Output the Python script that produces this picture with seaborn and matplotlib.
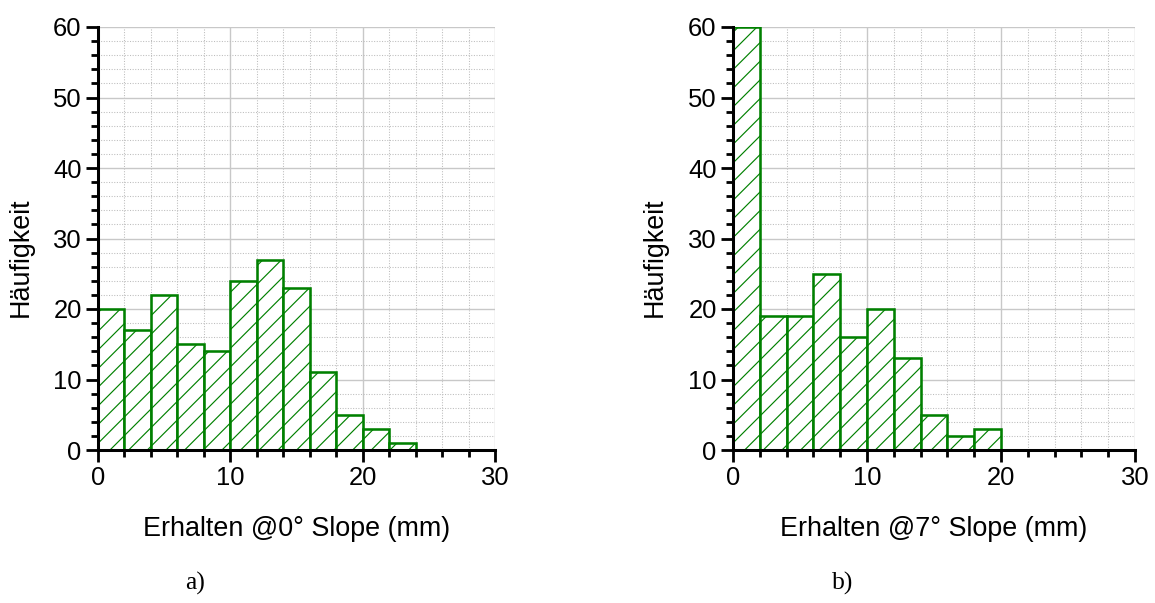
import numpy as np
import pandas as pd
import matplotlib
matplotlib.use("Agg")
import matplotlib.pyplot as plt
from matplotlib.ticker import MultipleLocator
import seaborn as sns

# Klassengrenzen (mm) und Häufigkeiten
bin_edges = [0, 2, 4, 6, 8, 10, 12, 14, 16, 18, 20, 22, 24]
counts_0deg = [20, 17, 22, 15, 14, 24, 27, 23, 11, 5, 3, 1]
counts_7deg = [60, 19, 19, 25, 16, 20, 13, 5, 2, 3]

xlabels = ["Erhalten @0° Slope (mm)", "Erhalten @7° Slope (mm)"]
ylabel = "Häufigkeit"
panel_tags = ["a)", "b)"]
xticks = [0, 10, 20, 30]
yticks = [0, 10, 20, 30, 40, 50, 60]

sns.set_style("white")
plt.rcParams["font.family"] = ["Liberation Sans", "DejaVu Sans"]
plt.rcParams["hatch.linewidth"] = 0.5
plt.rcParams["text.color"] = "black"
plt.rcParams["axes.labelcolor"] = "black"

green = "#008000"

fig = plt.figure(figsize=(1155 / 168, 603 / 168), dpi=168)
axes = [fig.add_axes([98 / 1155, 1 - 450 / 603, 397 / 1155, 423 / 603]),
        fig.add_axes([733 / 1155, 1 - 450 / 603, 402 / 1155, 423 / 603])]
tag_x = [0.244, 0.274]

for ax, counts, xl, tag, tx in zip(axes, [counts_0deg, counts_7deg], xlabels, panel_tags, tag_x):
    edges = bin_edges[:len(counts) + 1]
    df = pd.DataFrame({
        "mitte": [(edges[i] + edges[i + 1]) / 2 for i in range(len(counts))],
        "n": counts,
    })
    sns.histplot(data=df, x="mitte", weights="n", bins=edges, ax=ax,
                 element="bars", fill=True, facecolor="white",
                 edgecolor=green, hatch="///", linewidth=1.1, zorder=3)

    ax.set_xlim(0, 30)
    ax.set_ylim(0, 60)
    ax.set_xticks(xticks)
    ax.set_yticks(yticks)
    ax.xaxis.set_minor_locator(MultipleLocator(2))
    ax.yaxis.set_minor_locator(MultipleLocator(2))

    ax.grid(which="major", color="#c8c8c8", linewidth=0.6, linestyle="-", zorder=0)
    ax.grid(which="minor", color="#bdbdbd", linewidth=0.45, linestyle=(0, (1, 1.5)), zorder=0)
    ax.set_axisbelow(True)

    sns.despine(ax=ax)
    for side in ["left", "bottom"]:
        ax.spines[side].set_linewidth(1.3)
        ax.spines[side].set_color("black")
        ax.spines[side].set_zorder(5)

    ax.tick_params(which="major", length=5, width=1.2, colors="black",
                   labelsize=11, direction="out", pad=2)
    ax.tick_params(which="minor", length=3, width=1.2, colors="black", direction="out")
    ax.tick_params(axis="x", which="both", bottom=True)
    ax.tick_params(axis="y", which="both", left=True)

    ax.set_xlabel(xl, fontsize=11.5, labelpad=11)
    ax.set_ylabel(ylabel, fontsize=11.5)
    ax.yaxis.set_label_coords(-0.163, 0.455)

    # Teilbild-Bezeichnung unter der Achse
    ax.text(tx, -0.315, tag, transform=ax.transAxes, ha="center", va="center",
            fontsize=11, family=["Liberation Serif", "DejaVu Serif"])

fig.savefig("out.png", dpi=168)
